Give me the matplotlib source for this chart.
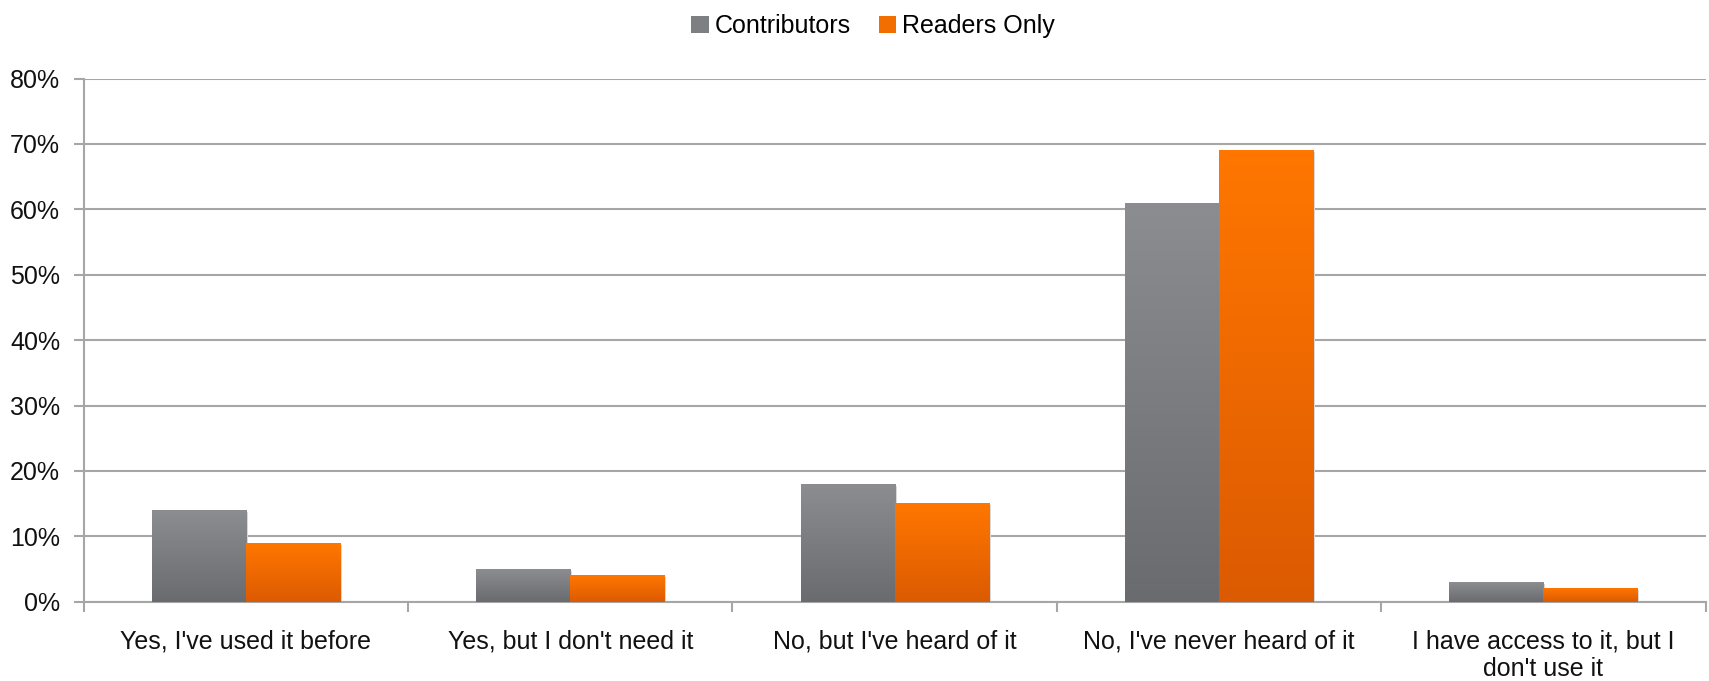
import matplotlib.pyplot as plt
import numpy as np
from matplotlib.patches import Patch
from matplotlib.colors import LinearSegmentedColormap

plt.rcParams['font.family'] = ['Liberation Sans', 'DejaVu Sans']

categories = ["Yes, I've used it before", "Yes, but I don't need it",
              "No, but I've heard of it", "No, I've never heard of it",
              "I have access to it, but I\ndon't use it"]
contributors = [14, 5, 18, 61, 3]
readers_only = [9, 4, 15, 69, 2]
yticks = [0, 10, 20, 30, 40, 50, 60, 70, 80]

gray_cmap = LinearSegmentedColormap.from_list('g', ['#6a6b6f', '#8b8d90'])
orange_cmap = LinearSegmentedColormap.from_list('o', ['#dc5a02', '#ff7700'])

fig = plt.figure(figsize=(17.09, 6.81), dpi=100)
ax = fig.add_axes([0.049, 0.1164, 0.949, 0.7683])

x = np.arange(len(categories))
w = 0.29
grad = np.linspace(0, 1, 256).reshape(-1, 1)

def gradient_bars(xs, vals, cmap):
    for xi, v in zip(xs, vals):
        # soft shadow
        ax.bar(xi + 0.006, v, w, bottom=-0.25, color='#d8d8d8', zorder=2, linewidth=0)
        ax.imshow(grad, cmap=cmap, origin='lower', aspect='auto',
                  extent=[xi - w / 2, xi + w / 2, 0, v], zorder=3)

gradient_bars(x - w / 2, contributors, gray_cmap)
gradient_bars(x + w / 2, readers_only, orange_cmap)

ax.set_xlim(-0.5, len(categories) - 0.5)
ax.set_ylim(0, 80)
ax.set_yticks(yticks)
ax.set_yticklabels([f'{t}%' for t in yticks], fontsize=18, color='#111111')
ax.yaxis.grid(True, color='#a6a6a6', linewidth=1.5, zorder=0)
ax.set_axisbelow(True)

ax.set_xticks(x)
ax.set_xticklabels(categories, fontsize=18, color='#111111', linespacing=1.2)
ax.tick_params(axis='x', which='major', length=0, pad=20)
ax.set_xticks(np.arange(-0.5, len(categories)), minor=True)
ax.tick_params(axis='x', which='minor', length=7, width=1.5, color='#a6a6a6')
ax.tick_params(axis='y', length=7, width=1.5, color='#a6a6a6', pad=10)

for s in ['top', 'right']:
    ax.spines[s].set_visible(False)
for s in ['left', 'bottom']:
    ax.spines[s].set_color('#a6a6a6')
    ax.spines[s].set_linewidth(1.5)

handles = [Patch(facecolor='#7d7f82', label='Contributors'),
           Patch(facecolor='#f26e00', label='Readers Only')]
fig.legend(handles=handles, loc='upper center', bbox_to_anchor=(0.511, 1.012), ncol=2,
           frameon=False, fontsize=18, handlelength=0.7, handleheight=0.7,
           handletextpad=0.25, columnspacing=1.1)

fig.savefig('out.png', dpi=100)
